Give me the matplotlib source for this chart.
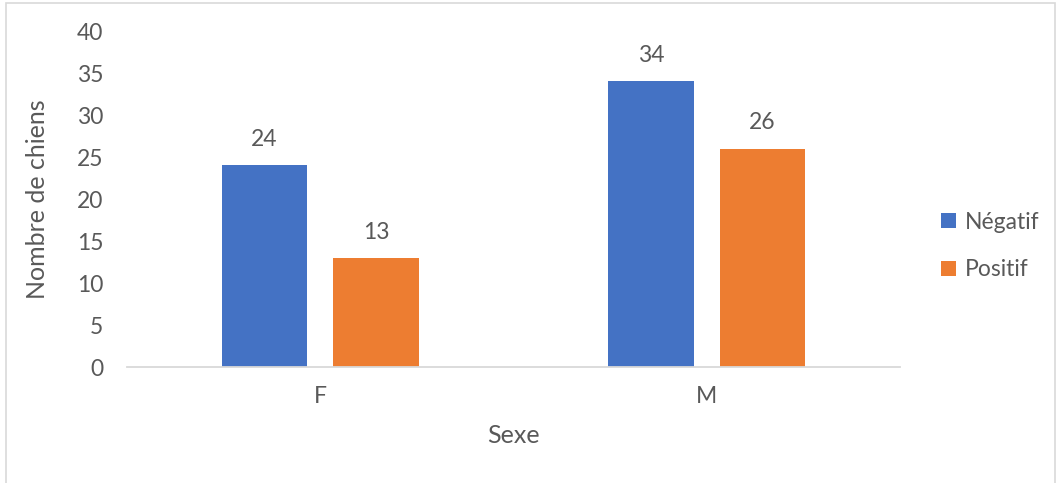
import numpy as np
import matplotlib.pyplot as plt
from matplotlib.patches import Rectangle

categories = ["F", "M"]
negatif = [24, 34]
positif = [13, 26]
series_names = ["Négatif", "Positif"]

plt.rcParams['font.family'] = ['Lato', 'DejaVu Sans']
txt = "#595959"

fig = plt.figure(figsize=(10.59, 4.83), dpi=100)
ax = fig.add_axes([127 / 1059, 1 - 367 / 483, 773 / 1059, 336 / 483])

x = np.arange(len(categories))
w = 0.222
b1 = ax.bar(x - 0.144, negatif, w, color="#4472C4", label=series_names[0])
b2 = ax.bar(x + 0.144, positif, w, color="#ED7D31", label=series_names[1])

for bars in (b1, b2):
    for r in bars:
        ax.annotate(str(int(r.get_height())), (r.get_x() + r.get_width() / 2, r.get_height()),
                    xytext=(0, 11), textcoords="offset points", ha="center", va="bottom",
                    fontsize=16.5, color=txt)

ax.set_xlim(-0.5, 1.5)
ax.set_ylim(0, 40)
ax.set_yticks(range(0, 41, 5))
ax.set_xticks(x)
ax.set_xticklabels(categories)
ax.tick_params(axis="both", length=0, labelsize=16.5, colors=txt)
ax.tick_params(axis="y", pad=17)
ax.tick_params(axis="x", pad=14)
for s in ["top", "right", "left"]:
    ax.spines[s].set_visible(False)
ax.spines["bottom"].set_color("#d9d9d9")
ax.spines["bottom"].set_linewidth(1.3)

ax.set_xlabel("Sexe", fontsize=18, color=txt, labelpad=12)
ax.set_ylabel("Nombre de chiens", fontsize=18, color=txt, labelpad=20)

ax.legend(loc="center left", bbox_to_anchor=(1.027, 0.36), frameon=False, fontsize=16.5,
          labelcolor=txt, handlelength=0.65, handleheight=0.65, handletextpad=0.35,
          labelspacing=1.15)

fig.patches.append(Rectangle((6 / 1059, -0.05), 1049 / 1059, 1.05 - 3 / 483, transform=fig.transFigure,
                             fill=False, edgecolor="#d9d9d9", linewidth=1.2))

fig.savefig("out.png", dpi=100)
